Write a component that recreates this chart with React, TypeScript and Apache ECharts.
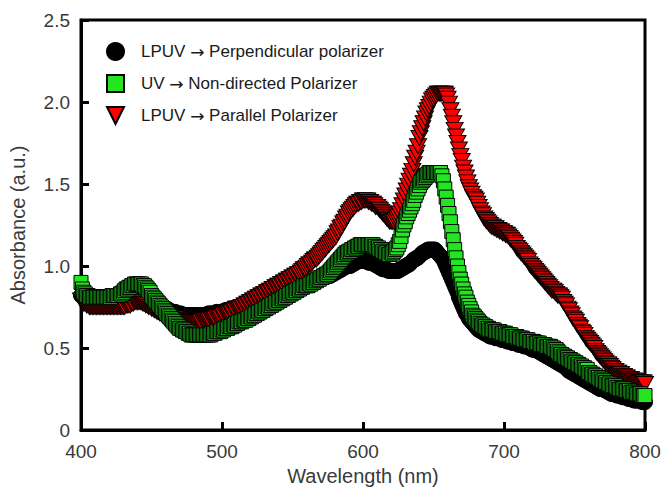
import React, { useEffect, useRef } from "react";
import * as echarts from "echarts";

// Wavelength sampling grid (nm), 400..800 every 1 nm
const wavelengths: number[] = Array.from({ length: 401 }, (_, i) => 400 + i);

const seriesNames = [
  "LPUV \u2192 Perpendicular polarizer",
  "UV \u2192 Non-directed Polarizer",
  "LPUV \u2192 Parallel Polarizer",
];

const xTicks = [400, 500, 600, 700, 800];
const yTicks = ["0", "0.5", "1.0", "1.5", "2.0", "2.5"];

// each row: 10 nm (x0 .. x9)
const perpendicular: number[] = [
  0.82, 0.82, 0.81, 0.81, 0.8, 0.8, 0.8, 0.8, 0.79, 0.79,
  0.79, 0.79, 0.79, 0.79, 0.79, 0.79, 0.79, 0.79, 0.79, 0.79,
  0.79, 0.79, 0.79, 0.79, 0.79, 0.79, 0.8, 0.8, 0.8, 0.8,
  0.81, 0.81, 0.82, 0.82, 0.83, 0.83, 0.84, 0.84, 0.84, 0.84,
  0.84, 0.84, 0.83, 0.83, 0.83, 0.83, 0.82, 0.81, 0.8, 0.8,
  0.79, 0.79, 0.78, 0.78, 0.77, 0.77, 0.76, 0.76, 0.75, 0.75,
  0.74, 0.74, 0.73, 0.73, 0.72, 0.72, 0.72, 0.72, 0.71, 0.71,
  0.71, 0.71, 0.7, 0.7, 0.7, 0.7, 0.7, 0.7, 0.7, 0.7,
  0.7, 0.7, 0.7, 0.7, 0.7, 0.7, 0.7, 0.7, 0.7, 0.7,
  0.71, 0.71, 0.71, 0.71, 0.71, 0.71, 0.72, 0.72, 0.72, 0.72,
  0.72, 0.72, 0.73, 0.73, 0.73, 0.73, 0.74, 0.74, 0.74, 0.74,
  0.75, 0.75, 0.75, 0.75, 0.76, 0.76, 0.76, 0.76, 0.77, 0.77,
  0.77, 0.77, 0.78, 0.78, 0.78, 0.78, 0.79, 0.79, 0.8, 0.8,
  0.8, 0.8, 0.81, 0.81, 0.82, 0.82, 0.83, 0.83, 0.84, 0.84,
  0.84, 0.84, 0.85, 0.85, 0.86, 0.86, 0.86, 0.86, 0.87, 0.87,
  0.88, 0.88, 0.88, 0.88, 0.89, 0.89, 0.89, 0.89, 0.9, 0.9,
  0.9, 0.9, 0.91, 0.91, 0.91, 0.91, 0.92, 0.92, 0.92, 0.92,
  0.93, 0.93, 0.93, 0.93, 0.94, 0.94, 0.94, 0.94, 0.95, 0.95,
  0.96, 0.96, 0.97, 0.97, 0.98, 0.98, 0.99, 0.99, 1.0, 1.0,
  1.0, 1.0, 1.01, 1.01, 1.02, 1.02, 1.03, 1.03, 1.03, 1.03,
  1.03, 1.03, 1.03, 1.03, 1.02, 1.02, 1.02, 1.02, 1.01, 1.01,
  1.0, 1.0, 0.99, 0.99, 0.98, 0.98, 0.98, 0.98, 0.97, 0.97,
  0.97, 0.97, 0.97, 0.97, 0.97, 0.97, 0.98, 0.98, 0.99, 0.99,
  1.0, 1.0, 1.01, 1.01, 1.02, 1.03, 1.04, 1.04, 1.05, 1.05,
  1.06, 1.07, 1.08, 1.08, 1.09, 1.09, 1.1, 1.1, 1.1, 1.1,
  1.1, 1.1, 1.09, 1.08, 1.07, 1.06, 1.05, 1.04, 1.02, 1.0,
  0.98, 0.96, 0.94, 0.92, 0.9, 0.88, 0.86, 0.84, 0.81, 0.79,
  0.77, 0.75, 0.73, 0.71, 0.7, 0.68, 0.67, 0.66, 0.65, 0.64,
  0.63, 0.62, 0.61, 0.61, 0.6, 0.6, 0.59, 0.59, 0.58, 0.58,
  0.57, 0.57, 0.57, 0.57, 0.56, 0.56, 0.56, 0.56, 0.55, 0.55,
  0.55, 0.55, 0.54, 0.54, 0.54, 0.54, 0.53, 0.53, 0.53, 0.53,
  0.52, 0.52, 0.52, 0.52, 0.51, 0.51, 0.51, 0.51, 0.5, 0.5,
  0.49, 0.49, 0.49, 0.49, 0.48, 0.48, 0.47, 0.47, 0.46, 0.46,
  0.45, 0.45, 0.44, 0.44, 0.43, 0.43, 0.42, 0.42, 0.41, 0.41,
  0.4, 0.4, 0.39, 0.39, 0.38, 0.37, 0.36, 0.36, 0.35, 0.35,
  0.34, 0.34, 0.33, 0.33, 0.32, 0.32, 0.31, 0.31, 0.3, 0.3,
  0.29, 0.29, 0.28, 0.28, 0.27, 0.27, 0.26, 0.26, 0.25, 0.25,
  0.25, 0.25, 0.24, 0.24, 0.23, 0.23, 0.22, 0.22, 0.22, 0.22,
  0.21, 0.21, 0.21, 0.21, 0.2, 0.2, 0.2, 0.2, 0.19, 0.19,
  0.19, 0.19, 0.18, 0.18, 0.18, 0.18, 0.18, 0.18, 0.17, 0.17,
  0.17,
];

const nonDirected: number[] = [
  0.9, 0.86, 0.84, 0.83, 0.82, 0.82, 0.81, 0.81, 0.81, 0.81,
  0.81, 0.81, 0.81, 0.81, 0.81, 0.81, 0.81, 0.81, 0.81, 0.81,
  0.81, 0.81, 0.82, 0.82, 0.82, 0.82, 0.82, 0.82, 0.83, 0.83,
  0.84, 0.85, 0.86, 0.86, 0.87, 0.87, 0.88, 0.88, 0.89, 0.89,
  0.89, 0.89, 0.89, 0.89, 0.88, 0.88, 0.87, 0.86, 0.85, 0.84,
  0.82, 0.81, 0.8, 0.79, 0.78, 0.77, 0.76, 0.75, 0.74, 0.73,
  0.72, 0.71, 0.7, 0.69, 0.68, 0.67, 0.66, 0.65, 0.64, 0.63,
  0.62, 0.62, 0.61, 0.61, 0.6, 0.6, 0.59, 0.59, 0.58, 0.58,
  0.58, 0.58, 0.58, 0.58, 0.58, 0.58, 0.58, 0.58, 0.58, 0.58,
  0.58, 0.58, 0.58, 0.59, 0.59, 0.59, 0.6, 0.6, 0.6, 0.6,
  0.61, 0.61, 0.62, 0.62, 0.62, 0.63, 0.63, 0.63, 0.64, 0.64,
  0.65, 0.65, 0.66, 0.66, 0.66, 0.67, 0.67, 0.67, 0.68, 0.68,
  0.69, 0.69, 0.7, 0.7, 0.71, 0.71, 0.72, 0.72, 0.73, 0.73,
  0.74, 0.74, 0.75, 0.75, 0.76, 0.76, 0.77, 0.77, 0.78, 0.78,
  0.79, 0.79, 0.8, 0.8, 0.81, 0.81, 0.82, 0.82, 0.83, 0.83,
  0.84, 0.84, 0.85, 0.85, 0.86, 0.86, 0.87, 0.87, 0.88, 0.88,
  0.88, 0.88, 0.89, 0.89, 0.9, 0.9, 0.91, 0.91, 0.92, 0.92,
  0.93, 0.93, 0.94, 0.94, 0.95, 0.95, 0.96, 0.97, 0.98, 0.99,
  1.0, 1.01, 1.02, 1.03, 1.04, 1.05, 1.06, 1.07, 1.08, 1.08,
  1.09, 1.09, 1.1, 1.1, 1.11, 1.11, 1.12, 1.12, 1.13, 1.13,
  1.13, 1.13, 1.13, 1.13, 1.13, 1.13, 1.13, 1.13, 1.12, 1.12,
  1.11, 1.11, 1.1, 1.1, 1.09, 1.09, 1.08, 1.08, 1.07, 1.07,
  1.08, 1.08, 1.09, 1.1, 1.11, 1.13, 1.15, 1.18, 1.22, 1.25,
  1.27, 1.3, 1.32, 1.34, 1.36, 1.38, 1.4, 1.43, 1.45, 1.47,
  1.49, 1.51, 1.52, 1.53, 1.54, 1.55, 1.56, 1.57, 1.57, 1.57,
  1.57, 1.57, 1.57, 1.57, 1.57, 1.57, 1.55, 1.52, 1.47, 1.42,
  1.37, 1.32, 1.27, 1.21, 1.16, 1.1, 1.05, 1.0, 0.96, 0.92,
  0.89, 0.86, 0.83, 0.81, 0.78, 0.76, 0.74, 0.72, 0.7, 0.69,
  0.68, 0.67, 0.66, 0.65, 0.64, 0.64, 0.63, 0.63, 0.62, 0.62,
  0.61, 0.61, 0.61, 0.61, 0.6, 0.6, 0.6, 0.6, 0.59, 0.59,
  0.59, 0.59, 0.58, 0.58, 0.58, 0.58, 0.57, 0.57, 0.57, 0.57,
  0.56, 0.56, 0.56, 0.56, 0.55, 0.55, 0.55, 0.55, 0.54, 0.54,
  0.54, 0.54, 0.53, 0.53, 0.53, 0.53, 0.52, 0.52, 0.52, 0.52,
  0.51, 0.51, 0.51, 0.51, 0.5, 0.5, 0.49, 0.49, 0.48, 0.47,
  0.46, 0.46, 0.45, 0.45, 0.44, 0.44, 0.43, 0.43, 0.42, 0.42,
  0.41, 0.41, 0.4, 0.4, 0.39, 0.39, 0.38, 0.38, 0.37, 0.37,
  0.35, 0.35, 0.34, 0.34, 0.33, 0.33, 0.32, 0.32, 0.31, 0.31,
  0.3, 0.3, 0.29, 0.29, 0.28, 0.28, 0.27, 0.27, 0.27, 0.27,
  0.26, 0.26, 0.25, 0.25, 0.25, 0.25, 0.24, 0.24, 0.24, 0.24,
  0.23, 0.23, 0.23, 0.23, 0.22, 0.22, 0.22, 0.22, 0.21, 0.21,
  0.21,
];

const parallel: number[] = [
  0.79, 0.78, 0.77, 0.77, 0.76, 0.76, 0.75, 0.75, 0.75, 0.75,
  0.75, 0.75, 0.75, 0.75, 0.75, 0.75, 0.75, 0.75, 0.75, 0.75,
  0.75, 0.75, 0.75, 0.75, 0.75, 0.75, 0.75, 0.75, 0.75, 0.75,
  0.75, 0.75, 0.76, 0.76, 0.76, 0.76, 0.77, 0.77, 0.78, 0.78,
  0.78, 0.78, 0.78, 0.78, 0.77, 0.77, 0.76, 0.76, 0.75, 0.75,
  0.74, 0.74, 0.73, 0.73, 0.72, 0.72, 0.71, 0.71, 0.7, 0.7,
  0.7, 0.7, 0.69, 0.69, 0.68, 0.68, 0.68, 0.68, 0.67, 0.67,
  0.67, 0.67, 0.66, 0.66, 0.66, 0.66, 0.66, 0.66, 0.66, 0.66,
  0.66, 0.66, 0.66, 0.66, 0.66, 0.66, 0.67, 0.67, 0.67, 0.67,
  0.67, 0.67, 0.68, 0.68, 0.68, 0.68, 0.69, 0.69, 0.69, 0.69,
  0.7, 0.7, 0.71, 0.71, 0.71, 0.71, 0.72, 0.72, 0.73, 0.73,
  0.74, 0.74, 0.74, 0.74, 0.75, 0.75, 0.76, 0.76, 0.77, 0.77,
  0.78, 0.78, 0.79, 0.79, 0.8, 0.8, 0.81, 0.81, 0.82, 0.82,
  0.83, 0.83, 0.84, 0.84, 0.85, 0.85, 0.86, 0.86, 0.87, 0.87,
  0.88, 0.88, 0.89, 0.89, 0.9, 0.9, 0.91, 0.91, 0.92, 0.92,
  0.93, 0.93, 0.94, 0.94, 0.95, 0.95, 0.96, 0.97, 0.98, 0.98,
  0.99, 1.0, 1.01, 1.01, 1.02, 1.03, 1.04, 1.04, 1.05, 1.06,
  1.07, 1.08, 1.09, 1.1, 1.11, 1.12, 1.13, 1.14, 1.15, 1.16,
  1.17, 1.18, 1.2, 1.21, 1.23, 1.24, 1.26, 1.27, 1.29, 1.3,
  1.32, 1.33, 1.34, 1.35, 1.36, 1.37, 1.38, 1.38, 1.39, 1.39,
  1.4, 1.4, 1.4, 1.4, 1.39, 1.39, 1.38, 1.38, 1.37, 1.36,
  1.36, 1.35, 1.34, 1.33, 1.32, 1.31, 1.3, 1.29, 1.28, 1.27,
  1.27, 1.27, 1.27, 1.28, 1.29, 1.3, 1.32, 1.34, 1.37, 1.4,
  1.43, 1.46, 1.49, 1.52, 1.55, 1.58, 1.62, 1.66, 1.69, 1.73,
  1.78, 1.81, 1.84, 1.87, 1.9, 1.93, 1.95, 1.97, 1.99, 2.01,
  2.02, 2.03, 2.04, 2.05, 2.05, 2.05, 2.05, 2.05, 2.05, 2.04,
  2.02, 1.99, 1.95, 1.91, 1.87, 1.83, 1.79, 1.75, 1.71, 1.67,
  1.64, 1.6, 1.57, 1.54, 1.51, 1.48, 1.46, 1.44, 1.42, 1.41,
  1.4, 1.38, 1.36, 1.34, 1.32, 1.31, 1.29, 1.28, 1.27, 1.26,
  1.25, 1.24, 1.24, 1.23, 1.23, 1.22, 1.22, 1.21, 1.21, 1.2,
  1.2, 1.19, 1.19, 1.18, 1.17, 1.16, 1.15, 1.14, 1.13, 1.11,
  1.1, 1.09, 1.08, 1.07, 1.06, 1.05, 1.04, 1.03, 1.01, 1.0,
  0.99, 0.98, 0.97, 0.96, 0.95, 0.94, 0.93, 0.92, 0.91, 0.9,
  0.89, 0.88, 0.87, 0.86, 0.85, 0.85, 0.84, 0.83, 0.82, 0.82,
  0.81, 0.8, 0.78, 0.77, 0.76, 0.74, 0.73, 0.71, 0.7, 0.68,
  0.67, 0.66, 0.64, 0.63, 0.62, 0.6, 0.59, 0.58, 0.56, 0.55,
  0.54, 0.53, 0.52, 0.51, 0.5, 0.48, 0.47, 0.46, 0.45, 0.44,
  0.43, 0.42, 0.41, 0.4, 0.4, 0.39, 0.38, 0.37, 0.36, 0.36,
  0.35, 0.35, 0.34, 0.34, 0.33, 0.33, 0.32, 0.32, 0.31, 0.31,
  0.31, 0.3, 0.3, 0.3, 0.29, 0.29, 0.29, 0.29, 0.29, 0.29,
  0.28,
];

const FONT = "'Liberation Sans', Arial, sans-serif";
const TEXT_COLOR = "#3a3a3a";

const pairs = (vals: number[]) => wavelengths.map((w, i) => [w, vals[i]]);

export default function App() {
  const ref = useRef<HTMLDivElement>(null);
  useEffect(() => {
    if (!ref.current) return;
    const chart = echarts.init(ref.current, undefined, { renderer: "svg" });
    const common = {
      type: "scatter" as const,
      clip: false,
      animation: false,
      emphasis: { disabled: true },
    };
    chart.setOption({
      animation: false,
      backgroundColor: "#fff",
      grid: {
        left: 81,
        right: 17,
        top: 20,
        bottom: 57,
        show: true,
        borderColor: "#000",
        borderWidth: 3,
        outerBoundsMode: "none",
      },
      legend: {
        orient: "vertical",
        left: 106,
        top: 42,
        padding: 0,
        itemWidth: 17,
        itemHeight: 17,
        itemGap: 13,
        data: [
          { name: seriesNames[0], icon: "circle" },
          { name: seriesNames[1], icon: "rect" },
          { name: seriesNames[2], icon: "path://M0,0L16,0L8,16Z" },
        ],
        formatter: (name: string) => name.replace("\u2192", "{a|\u2192}"),
        textStyle: {
          fontFamily: FONT,
          fontSize: 17,
          lineHeight: 17,
          color: "#1a1a1a",
          padding: [0, 0, 0, 12],
          rich: {
            a: { fontFamily: "'DejaVu Sans', sans-serif", fontSize: 17, color: "#1a1a1a", lineHeight: 17 },
          },
        },
      },
      xAxis: {
        type: "value",
        min: 400,
        max: 800,
        interval: 100,
        name: "Wavelength (nm)",
        nameLocation: "middle",
        nameGap: 36,
        nameTextStyle: { fontFamily: FONT, fontSize: 20, color: TEXT_COLOR },
        axisLine: { lineStyle: { color: "#000", width: 3 } },
        axisTick: { inside: true, length: 8, lineStyle: { color: "#000", width: 3 } },
        axisLabel: {
          fontFamily: FONT,
          fontSize: 19,
          color: TEXT_COLOR,
          margin: 12,
          formatter: (v: number) => (xTicks.includes(v) ? String(v) : ""),
        },
        splitLine: { show: false },
      },
      yAxis: {
        type: "value",
        min: 0,
        max: 2.5,
        interval: 0.5,
        name: "Absorbance (a.u.)",
        nameLocation: "middle",
        nameGap: 53,
        nameTextStyle: { fontFamily: FONT, fontSize: 20, color: TEXT_COLOR },
        axisLine: { lineStyle: { color: "#000", width: 3 } },
        axisTick: { inside: true, length: 8, lineStyle: { color: "#000", width: 3 } },
        axisLabel: {
          fontFamily: FONT,
          fontSize: 19,
          color: TEXT_COLOR,
          margin: 11,
          formatter: (v: number) => yTicks[Math.round(v / 0.5)] ?? "",
        },
        splitLine: { show: false },
      },
      series: [
        {
          ...common,
          name: seriesNames[0],
          data: pairs(perpendicular),
          symbol: "circle",
          symbolSize: 15,
          itemStyle: { color: "#000", borderColor: "#000", borderWidth: 1, opacity: 1 },
          z: 2,
        },
        {
          ...common,
          name: seriesNames[2],
          data: pairs(parallel),
          symbol: "triangle",
          symbolRotate: 180,
          symbolSize: [17, 15],
          itemStyle: { color: "#ff0000", borderColor: "#000", borderWidth: 1, opacity: 1 },
          z: 3,
        },
        {
          ...common,
          name: seriesNames[1],
          data: pairs(nonDirected),
          symbol: "rect",
          symbolSize: 14,
          itemStyle: { color: "#22e622", borderColor: "#000", borderWidth: 1, opacity: 1 },
          z: 4,
        },
      ],
    });
    return () => chart.dispose();
  }, []);
  return (
    <div
      ref={ref}
      style={{ position: "fixed", left: 0, top: 0, width: 662, height: 487 }}
    />
  );
}
